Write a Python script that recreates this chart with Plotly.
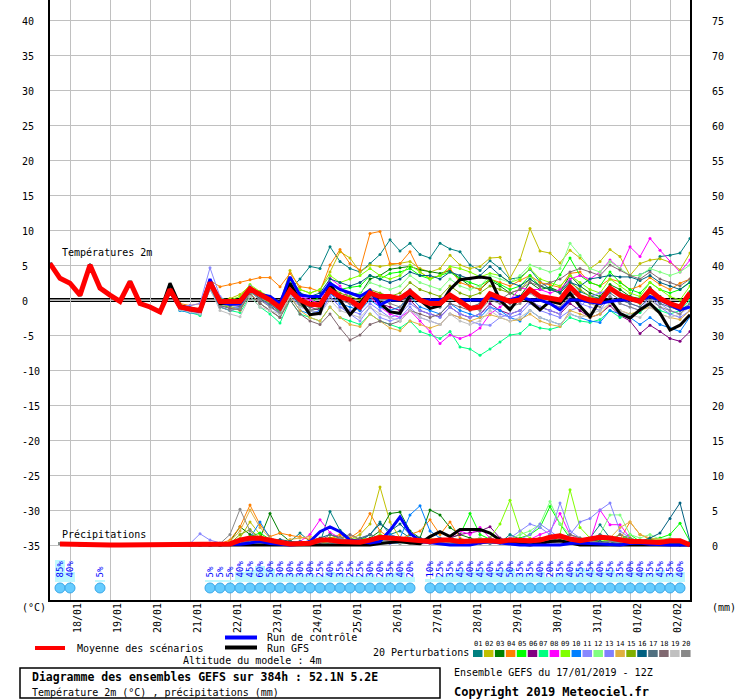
import pandas as pd
import plotly.graph_objects as go

# GEFS ensemble diagram, run 17/01/2019 12Z, 52.1N 5.2E
run_start = pd.Timestamp('2019-01-17 12:00')
temp_times = pd.date_range(run_start, periods=65, freq='6h')
precip_times = temp_times[1:]

day_ticks = pd.date_range('2019-01-18', periods=16, freq='D')
day_labels = ['18/01', '19/01', '20/01', '21/01', '22/01', '23/01', '24/01', '25/01',
              '26/01', '27/01', '28/01', '29/01', '30/01', '31/01', '01/02', '02/02']

temp_ticks = [40, 35, 30, 25, 20, 15, 10, 5, 0, -5, -10, -15, -20, -25, -30, -35]
temp_labels = ['40', '35', '30', '25', '20', '15', '10', '5', '0', '-5', '-10', '-15',
               '-20', '-25', '-30', '-35']
precip_ticks = [75, 70, 65, 60, 55, 50, 45, 40, 35, 30, 25, 20, 15, 10, 5, 0]

pert_colors = ['#008080', '#c0c000', '#008000', '#ff8000', '#00ff00', '#800080', '#00ff80',
               '#ff00ff', '#80ff00', '#0080ff', '#8888ff', '#80ff80', '#8080ff', '#e0b040',
               '#80b000', '#006080', '#507080', '#806870', '#c0c0c0', '#888888']

# first 3 days: all runs nearly identical
t_early = [5.2, 3.1, 2.4, 0.7, 5.0, 1.7, 0.7, -0.2, 2.6, -0.5, -1.0, -1.7]
p_early = [0.2, 0.1, 0, 0, 0, 0, 0, 0, 0, 0, 0, 0, 0]

# 2m temperature (°C) from 20/01 12Z, every 6h
t01 = [1.6, -1.1, -1.4, -1.6, 2.3, -0.3, -0.6, -0.3, 1.8, 0.5, -0.3, -1.4, 1.5, 3.0, 4.8, 4.5, 7.6, 5.5, 4.5, 4.0,
       5.2, 6.5, 8.6, 7.0, 8.1, 6.5, 6.0, 8.1, 7.3, 6.9, 5.0, 4.2, 5.6, 4.5, 3.0, 3.2, 4.4, 2.6, 1.6, 1.2,
       2.8, 1.2, 0.6, 0.2, 1.8, 1.0, 0.4, 3.6, 4.3, 6.2, 6.4, 6.7, 8.8]
t02 = [1.4, -1.0, -1.2, -1.4, 2.6, -0.2, 0.2, 0.8, 2.0, 1.0, 0.5, -0.5, 4.2, 1.5, 1.0, 1.5, 4.0, 6.9, 6.0, 4.0,
       5.0, 4.8, 5.0, 5.2, 5.5, 4.5, 4.0, 4.5, 6.4, 5.0, 4.5, 4.8, 6.0, 6.1, 3.1, 5.7, 10.2, 7.0, 6.7, 5.3,
       7.1, 6.0, 4.5, 5.5, 7.2, 6.2, 3.5, 5.2, 5.7, 5.9, 5.4, 4.3, 6.7]
t03 = [1.5, -1.0, -1.3, -1.5, 2.4, -0.4, -0.5, -0.6, 1.4, 0.2, -0.8, -2.0, 1.2, -0.8, -1.5, -1.2, 1.6, 0.5, 1.0, 0.8,
       3.0, 3.5, 4.4, 4.6, 4.8, 4.3, 4.0, 3.8, 4.2, 3.1, 2.0, 1.5, 2.8, 2.0, 1.0, 0.5, 2.5, 1.5, 1.8, 1.2,
       3.5, 2.0, 1.0, 0.5, 2.2, 1.5, 0.5, 0.2, 1.8, 0.5, -0.5, -1.0, 1.2]
t04 = [1.5, -0.5, -0.8, -0.5, 2.8, 1.9, 2.2, 2.5, 2.9, 3.2, 3.2, 1.9, 3.8, 1.9, 1.7, 1.2, 5.0, 7.2, 5.2, 4.3,
       9.5, 9.8, 5.2, 5.2, 6.9, 4.0, 3.1, 3.5, 4.5, 2.5, 2.0, 1.5, 3.0, 2.5, 2.0, 2.8, 3.5, 2.5, 2.2, 1.8,
       3.8, 4.0, 2.5, 2.0, 3.0, 2.6, 1.5, 2.0, 3.2, 2.2, 1.5, 2.4, 3.0]
t05 = [1.6, -1.0, -1.5, -2.0, 2.2, -0.8, -1.0, -1.2, 1.0, 0.5, -0.5, -1.8, 1.5, 0.0, -0.5, 0.5, 2.5, 1.5, 1.8, 2.0,
       3.5, 3.0, 3.8, 4.0, 4.5, 3.5, 3.0, 3.5, 4.0, 3.0, 2.5, 2.0, 3.0, 2.2, 1.5, 2.0, 3.5, 2.0, 1.5, 3.6,
       6.0, 3.5, 2.5, 2.0, 4.0, 2.5, 1.5, 1.0, 2.5, 1.5, 1.0, 1.5, 2.6]
t06 = [1.4, -1.2, -1.6, -1.8, 2.0, -0.6, -0.5, -0.8, 1.5, 0.8, 0.0, -1.0, 1.2, -0.5, -1.0, -1.5, 1.0, 0.0, -0.5, -1.5,
       0.5, -0.5, -1.0, -1.5, 0.0, -1.5, -2.0, -2.4, -1.0, -2.0, -2.5, -2.0, -0.5, -1.5, -2.0, -1.5, 0.0, -1.0, -1.5, -2.0,
       -0.5, -1.5, -2.5, -2.0, -0.8, -2.2, -3.0, -4.8, -3.6, -4.5, -5.5, -5.9, -4.5]
t07 = [1.3, -1.5, -1.8, -2.2, 1.8, -1.0, -1.5, -1.8, 0.5, -1.0, -2.0, -3.3, 0.0, -2.0, -2.5, -3.0, -1.0, -2.5, -3.0, -3.5,
       -2.0, -3.0, -3.5, -4.0, -3.0, -4.5, -5.0, -5.5, -4.5, -6.7, -7.0, -7.9, -7.0, -6.0, -5.0, -4.8, -3.5, -4.0, -4.2, -3.8,
       -2.5, -3.0, -3.2, -2.8, -1.5, -2.5, -2.0, -1.8, -0.5, -1.5, -2.0, -1.5, 0.0]
t08 = [1.5, -1.2, -1.5, -1.7, 2.4, -0.4, -0.6, -0.8, 1.4, 0.5, 0.0, -1.0, 1.6, 0.5, 0.0, -0.5, 3.1, 2.0, 0.0, -1.0,
       0.5, -1.0, -2.0, -2.5, -1.5, -3.0, -4.5, -6.2, -5.0, -5.5, -5.0, -4.0, -2.0, -1.0, 0.0, 1.7, 1.5, 1.5, 1.0, 1.5,
       3.0, 3.5, 3.0, 4.0, 5.7, 4.5, 7.6, 6.2, 8.8, 7.1, 5.5, 4.0, 5.7]
t09 = [1.6, -0.8, -1.2, -1.3, 2.6, 0.2, 0.0, 0.5, 2.2, 1.2, 0.5, -0.5, 2.5, 1.5, 1.0, 1.5, 3.5, 2.5, 3.0, 3.5,
       4.5, 3.5, 3.0, 3.5, 5.0, 4.0, 3.0, 3.5, 4.8, 4.5, 4.0, 3.3, 3.8, 3.5, 2.5, 3.0, 4.5, 3.0, 2.5, 2.0,
       3.5, 2.5, 1.5, 1.0, 3.0, 2.0, 1.0, 0.5, 2.5, 1.5, 0.5, 0.0, 2.0]
t10 = [1.0, -1.5, -1.8, -2.0, 1.5, -1.0, -1.5, -1.2, 1.0, -0.5, -1.5, -2.5, 0.5, -1.5, -2.0, -1.5, 1.0, -0.5, -1.0, -1.5,
       0.0, -1.0, -1.5, -1.0, 0.5, -1.0, -1.5, -2.0, -0.5, -1.5, -2.0, -2.5, -1.0, -1.5, -2.5, -3.0, -1.5, -2.5, -3.0, -3.5,
       -2.0, -2.5, -3.0, -3.2, -1.5, -2.0, -2.5, -3.5, -2.5, -3.5, -4.0, -4.5, -2.4]
t11 = [1.8, -0.8, -0.8, -0.5, 4.6, 0.5, -0.5, -1.0, 2.0, 0.5, -1.0, -2.0, 1.8, -0.5, -1.5, -2.0, 0.5, -1.0, -2.0, -3.0,
       -1.0, -2.5, -3.0, -2.5, -1.0, -2.5, -3.0, -3.5, -2.0, -2.5, -3.0, -3.5, -3.6, -2.5, -2.0, -1.5, 0.0, -1.0, -1.5, -2.0,
       0.5, -0.5, -1.0, -1.5, 0.5, -0.5, -1.0, -1.5, 0.5, -0.5, -1.5, -2.0, -0.5]
t12 = [1.5, -1.0, -1.3, -1.5, 2.4, -0.3, -0.5, -0.6, 1.5, 0.5, -0.5, -1.5, 1.4, -0.5, -1.0, -0.5, 1.5, 0.5, 0.5, 1.0,
       2.5, 2.0, 1.5, 2.0, 3.5, 2.5, 2.0, 1.5, 3.0, 2.0, 1.5, 2.0, 3.5, 3.0, 2.5, 3.5, 5.0, 4.5, 4.0, 4.5,
       8.1, 6.4, 4.5, 4.0, 5.5, 4.5, 3.5, 3.5, 4.5, 4.0, 3.5, 4.0, 5.0]
t13 = [1.4, -1.3, -1.6, -1.9, 2.0, -0.8, -1.2, -1.0, 1.2, 0.0, -0.8, -1.5, 1.0, -1.0, -1.5, -1.8, 0.5, -1.0, -1.5, -2.0,
       -0.5, -1.5, -2.5, -2.0, -0.5, -1.5, -2.0, -2.5, -1.0, -2.0, -2.5, -2.0, -1.0, -2.0, -2.5, -2.0, -0.5, -1.5, -2.0, -2.5,
       -1.5, -1.0, 0.5, 1.0, 1.5, 0.5, -0.5, -1.0, 0.5, -1.0, -2.0, -2.5, -1.5]
t14 = [1.5, -1.0, -1.2, -1.4, 2.5, -0.5, -1.0, -1.5, 1.0, -0.5, -1.5, -2.5, 0.5, -1.5, -2.5, -3.0, -1.0, -2.5, -3.5, -3.8,
       -2.0, -3.0, -4.0, -4.4, -3.0, -3.5, -4.0, -3.5, -2.0, -2.5, -3.0, -2.5, -2.1, -2.5, -3.0, -2.8, -2.0, -3.0, -3.5, -3.8,
       -1.5, -2.0, -2.5, -2.0, -0.5, -1.5, -2.0, -1.5, -1.0, -2.0, -2.5, -2.8, -1.5]
t15 = [1.5, -0.9, -1.2, -1.4, 2.5, -0.2, -0.3, -0.2, 1.8, 0.8, 0.0, -1.0, 1.5, 0.0, -0.5, -0.5, 2.0, 1.0, 0.5, 0.0,
       1.5, 1.0, 0.5, 1.0, 2.5, 1.5, 1.0, 0.5, 2.0, 1.0, 0.5, 1.0, 2.0, 1.5, 1.0, 1.5, 3.0, 2.0, 1.5, 1.0,
       2.5, 1.5, 0.5, 0.0, 1.5, 0.5, 0.0, -0.5, 1.0, 0.0, -0.5, -1.0, 0.5]
t16 = [1.6, -0.9, -1.1, -1.3, 2.6, 0.0, -0.2, 0.0, 1.8, 1.0, 0.5, -0.5, 2.0, 1.0, 0.5, 1.0, 3.0, 2.5, 2.0, 2.5,
       3.5, 3.0, 2.5, 3.0, 4.0, 3.5, 3.5, 3.0, 4.0, 3.5, 3.0, 3.5, 4.8, 3.5, 2.5, 2.0, 3.0, 2.0, 1.5, 1.0,
       2.5, 2.0, 3.0, 3.2, 3.5, 3.3, 3.3, 2.8, 3.5, 2.5, 2.0, 1.5, 2.5]
t17 = [1.5, -1.1, -1.4, -1.6, 2.3, -0.6, -0.8, -0.9, 1.3, 0.2, -0.6, -1.6, 1.1, -0.6, -1.0, -0.5, 2.0, 0.5, 0.0, -0.5,
       1.0, 0.5, 0.0, 0.5, 1.5, 0.0, -0.5, -1.0, 0.5, -0.5, -1.0, -0.5, 0.5, 0.0, -0.5, 0.0, 1.5, 0.5, 0.0, -0.5,
       1.0, 0.5, 0.0, -0.5, 1.0, 0.0, -0.5, -1.0, 0.5, -0.5, -1.0, -1.5, -0.5]
t18 = [1.4, -1.2, -1.5, -1.8, 2.0, -0.8, -1.2, -1.4, 0.8, -0.5, -1.5, -2.5, 0.0, -2.0, -3.0, -3.5, -2.0, -4.0, -5.7, -5.0,
       -3.5, -3.0, -3.5, -3.0, -1.5, -2.0, -2.5, -2.0, -0.5, -1.0, -1.5, -1.0, 0.5, 0.0, 1.0, 1.5, 2.5, 2.0, 2.5, 3.0,
       4.0, 4.5, 4.0, 3.5, 5.0, 4.3, 3.5, 3.0, 4.0, 3.0, 2.5, 2.0, 3.0]
t19 = [1.3, -1.4, -1.7, -2.0, 1.6, -1.5, -2.0, -2.4, 0.5, -1.0, -1.5, -2.0, 0.5, -1.0, -1.5, -2.0, 0.0, -1.5, -2.0, -2.5,
       -1.0, -2.0, -2.5, -3.0, -1.5, -2.5, -3.0, -3.5, -2.0, -3.0, -3.5, -3.0, -1.5, -2.5, -3.0, -2.5, -1.5, -2.5, -3.0, -3.5,
       -2.0, -2.5, -2.0, -1.5, -0.5, -1.5, -2.1, -2.5, -1.0, -2.0, -2.5, -2.0, -1.0]
t20 = [1.5, -1.1, -1.4, -1.6, 2.2, -1.0, -1.5, -1.2, 1.3, 0.0, -1.0, -1.8, 1.2, -0.5, -1.5, -1.0, 1.5, 0.0, -0.5, -1.0,
       0.5, 0.0, -0.5, -1.0, 1.0, 0.0, -0.5, -1.0, 0.5, -0.5, -1.0, -1.5, 0.0, -0.5, -1.0, -0.5, 1.0, 0.0, -0.5, -1.0,
       0.5, 0.0, -0.5, -1.0, 0.5, -0.5, -1.0, -1.5, 0.0, -1.0, -1.5, -2.0, -0.5]
t_ctrl = [1.2, -1.1, -1.4, -1.6, 3.0, -0.3, -0.6, -0.5, 1.4, 0.8, 0.5, -0.5, 3.3, 0.7, 0.5, 0.5, 2.4, 1.5, 1.0, 0.5,
          1.4, -0.7, 0.0, 0.0, 1.0, 0.0, 0.0, 0.0, 0.5, 0.0, 0.0, 0.0, 0.3, 0.0, 0.0, 0.5, 0.0, 0.0, -0.5, -1.4,
          0.0, 0.0, -0.3, -0.5, -0.2, 0.0, 0.0, 0.0, 0.5, 0.0, -0.7, -1.4, -1.0]
t_gfs = [2.4, -0.8, -1.2, -1.5, 2.6, -0.5, -0.5, -0.5, 1.6, 0.8, 0.2, -0.3, 2.4, 0.0, -2.1, -1.9, 2.4, 0.0, -2.1, -0.5,
         1.2, -0.5, -1.7, -1.9, 0.7, 0.0, -1.2, -0.8, 1.5, 2.9, 3.1, 3.3, 3.1, 0.0, -1.4, 0.5, -0.2, -1.4, -0.2, -0.5,
         1.0, -0.9, -2.4, 0.0, 0.0, -1.9, -2.6, -1.4, -0.5, -1.9, -4.3, -3.6, -2.1]
t_mean = [1.5, -1.0, -1.3, -1.5, 2.5, -0.2, -0.2, -0.2, 1.6, 0.8, 0.0, -1.1, 1.4, 0.0, -0.6, -0.7, 1.4, 0.5, 0.0, -1.0,
          1.0, 0.5, 0.5, 0.2, 1.2, 0.0, -0.5, -0.5, 0.7, -0.2, -1.2, -1.0, 0.9, 0.3, -0.2, 0.0, 1.5, 0.5, 0.2, 0.0,
          1.9, 0.5, 0.0, -0.2, 1.7, 0.7, 0.2, -0.2, 1.4, 0.2, -0.5, -1.0, 1.0]

# 6h precipitation (mm) from 21/01 00Z
p01 = [0, 0, 0, 0, 0.2, 0.5, 0.8, 0.5, 0.3, 0.2, 0.5, 1.7, 0.5, 0.3, 4.8, 2.1, 1.0, 0.5, 1.5, 3.3, 1.5,
       2.0, 1.0, 0.5, 0.8, 0.5, 0.3, 0.2, 0.5, 1.0, 0.5, 0.3, 1.5, 0.8, 0.5, 0.3, 1.5, 1.0, 0.5, 0.5, 1.0,
       2.9, 1.0, 0.5, 0.3, 0.2, 0.5, 0.3, 0.2, 0.0, 0.0]
p02 = [0, 0, 0, 0, 0.3, 1.0, 3.3, 1.5, 0.5, 0.3, 0.2, 0.3, 0.5, 0.8, 1.0, 1.2, 0.8, 1.5, 3.0, 8.3, 3.3,
       1.0, 0.5, 0.3, 0.5, 0.8, 0.5, 0.3, 0.5, 0.8, 0.5, 0.3, 1.0, 0.5, 0.3, 0.5, 1.0, 0.8, 0.5, 0.3, 0.5,
       0.5, 0.3, 0.2, 0.5, 0.3, 0.2, 0.3, 0.2, 0.1, 0.0]
p03 = [0, 0, 0, 0, 0.5, 2.6, 1.5, 1.0, 4.5, 1.7, 0.5, 0.3, 0.2, 0.5, 0.8, 0.5, 0.3, 0.5, 1.0, 2.0, 4.5,
       4.7, 2.0, 1.0, 5.0, 4.3, 2.5, 1.5, 1.0, 0.5, 0.3, 0.5, 0.3, 0.2, 0.5, 0.3, 0.8, 0.5, 0.3, 0.2, 0.5,
       0.3, 0.2, 0.5, 0.3, 0.2, 0.1, 0.3, 0.2, 0.1, 0.0]
p04 = [0, 0, 0, 0.2, 0.7, 2.6, 5.7, 2.9, 1.2, 1.7, 1.4, 1.2, 0.8, 0.5, 1.0, 1.5, 1.0, 2.0, 4.5, 2.0, 1.0,
       0.8, 1.5, 2.0, 3.6, 1.5, 3.3, 1.0, 0.5, 0.8, 1.0, 0.5, 0.3, 0.5, 0.8, 1.0, 0.5, 0.3, 0.5, 0.8, 0.5,
       0.3, 0.5, 0.8, 3.3, 1.5, 0.8, 0.5, 0.3, 0.2, 0.0]
p05 = [0, 0, 0, 0, 0.3, 0.8, 1.2, 1.7, 0.8, 0.5, 0.3, 0.2, 0.3, 0.8, 1.0, 0.5, 0.3, 0.2, 0.5, 0.8, 1.0,
       0.5, 0.3, 0.5, 0.8, 0.5, 1.0, 1.5, 4.5, 1.5, 0.8, 0.5, 0.8, 1.0, 1.5, 2.5, 5.5, 3.0, 1.0, 0.5, 0.8,
       1.0, 0.5, 0.8, 1.5, 0.5, 0.8, 1.0, 1.5, 3.1, 0.5]
p06 = [0, 0, 0, 0, 0.1, 0.3, 0.5, 0.3, 0.2, 0.1, 0.1, 0.2, 0.3, 0.5, 0.3, 0.2, 0.5, 0.3, 0.5, 0.8, 0.5,
       0.3, 0.5, 0.3, 0.5, 0.8, 1.0, 1.5, 1.8, 2.0, 2.6, 1.0, 0.5, 0.3, 0.2, 0.3, 0.5, 0.3, 0.2, 0.5, 0.3,
       0.2, 0.3, 0.5, 0.3, 0.2, 0.1, 0.2, 0.3, 0.2, 0.0]
p07 = [0, 0, 0, 0, 0.2, 0.5, 0.8, 0.5, 0.3, 0.2, 0.1, 0.2, 0.5, 0.3, 0.2, 0.5, 0.3, 0.2, 0.3, 0.5, 0.3,
       0.2, 0.3, 0.2, 0.5, 0.3, 0.2, 0.5, 0.3, 0.2, 0.3, 0.5, 0.3, 0.2, 0.5, 0.8, 0.5, 0.3, 0.2, 0.3, 0.5,
       0.3, 0.5, 0.8, 0.5, 0.3, 0.2, 0.5, 0.8, 0.3, 0.0]
p08 = [0, 0, 0, 0, 0.1, 0.3, 0.5, 0.3, 0.2, 0.5, 0.3, 0.5, 1.5, 3.6, 1.8, 1.0, 0.5, 0.3, 0.5, 0.8, 0.5,
       0.3, 0.5, 0.8, 0.5, 0.3, 1.0, 2.0, 1.5, 2.5, 1.0, 0.5, 0.3, 0.5, 0.8, 1.5, 2.0, 4.5, 1.5, 0.8, 0.5,
       5.0, 2.9, 2.9, 1.0, 0.5, 0.3, 0.5, 0.8, 0.5, 0.0]
p09 = [0, 0, 0, 0, 0.1, 0.2, 0.5, 0.8, 0.5, 0.3, 0.2, 0.3, 0.2, 0.5, 0.3, 0.5, 0.8, 1.0, 0.8, 1.5, 1.0,
       0.5, 0.3, 0.5, 0.8, 1.0, 0.5, 0.3, 0.5, 0.8, 1.0, 3.0, 6.4, 2.0, 1.0, 0.5, 1.0, 1.5, 7.9, 2.5, 1.0,
       0.5, 0.8, 1.5, 0.8, 0.5, 1.0, 0.8, 0.5, 0.3, 0.0]
p10 = [0, 0, 0, 0, 0.2, 0.5, 1.0, 3.3, 1.0, 0.5, 0.3, 0.5, 0.3, 0.5, 0.8, 0.5, 0.3, 0.5, 0.8, 1.0, 1.5,
       1.0, 4.3, 5.6, 2.0, 1.0, 0.5, 0.3, 0.5, 0.3, 0.2, 0.3, 0.5, 0.3, 0.2, 0.5, 0.3, 0.5, 0.8, 0.3, 0.2,
       0.3, 0.5, 0.3, 0.2, 0.1, 0.3, 0.2, 0.1, 0.2, 0.0]
p11 = [0.2, 1.6, 0.7, 0.3, 0.2, 0.3, 0.5, 0.3, 0.2, 0.1, 0.2, 0.3, 0.2, 0.5, 0.3, 0.2, 0.3, 0.5, 0.8, 0.5, 0.3,
       0.5, 0.3, 0.8, 1.0, 0.5, 0.3, 0.5, 0.8, 0.5, 0.3, 0.5, 1.0, 2.0, 3.0, 2.5, 1.5, 6.0, 2.0, 1.0, 0.5,
       0.3, 0.5, 0.3, 0.2, 0.5, 0.3, 0.5, 0.8, 0.5, 0.0]
p12 = [0, 0, 0, 0, 0.2, 0.5, 0.8, 0.5, 0.3, 0.2, 0.1, 0.2, 0.3, 0.2, 0.5, 0.3, 0.5, 0.3, 0.2, 0.5, 0.8,
       0.5, 0.3, 0.5, 0.8, 0.5, 0.3, 0.5, 0.8, 1.0, 0.5, 0.3, 0.8, 1.5, 2.0, 3.0, 6.2, 3.0, 1.5, 1.0, 0.8,
       1.5, 4.3, 4.3, 1.5, 1.0, 1.5, 0.8, 1.0, 0.5, 0.0]
p13 = [0, 0, 0, 0, 0.1, 0.3, 0.5, 0.3, 0.2, 0.3, 0.2, 0.1, 0.3, 0.5, 0.8, 0.5, 0.3, 0.2, 0.5, 0.3, 0.2,
       0.3, 0.5, 0.3, 0.2, 0.5, 0.8, 0.5, 0.3, 0.5, 0.8, 0.5, 0.3, 0.8, 1.5, 3.0, 2.0, 1.0, 1.5, 3.3, 3.8,
       5.0, 6.0, 2.0, 1.0, 0.5, 0.3, 0.5, 0.3, 0.2, 0.0]
p14 = [0, 0, 0, 0, 0.5, 2.0, 5.0, 2.5, 1.0, 0.5, 0.8, 1.0, 1.2, 0.8, 0.5, 0.3, 0.5, 0.3, 0.5, 0.8, 0.5,
       0.3, 0.5, 0.8, 1.0, 0.5, 0.3, 0.5, 0.3, 0.2, 0.5, 0.8, 0.5, 0.3, 0.2, 0.5, 0.3, 0.2, 0.5, 0.3, 0.5,
       0.8, 1.0, 2.5, 3.3, 1.5, 1.0, 0.8, 0.5, 0.3, 0.0]
p15 = [0, 0, 0, 0, 0.2, 1.5, 2.2, 1.0, 0.5, 0.3, 0.2, 0.3, 0.5, 0.3, 0.5, 0.8, 0.5, 0.3, 0.5, 0.8, 1.0,
       0.5, 0.3, 0.5, 0.8, 0.5, 0.3, 0.2, 0.5, 0.3, 0.5, 0.8, 0.5, 0.3, 0.5, 0.8, 1.0, 0.5, 0.3, 0.5, 0.8,
       0.5, 0.3, 0.8, 1.0, 0.5, 0.3, 0.5, 0.3, 0.2, 0.0]
p16 = [0, 0, 0, 0, 0.1, 0.3, 0.5, 0.3, 0.5, 0.8, 0.5, 0.3, 0.5, 1.0, 1.5, 1.0, 0.5, 0.8, 1.5, 3.0, 2.0,
       3.0, 1.5, 1.0, 0.5, 0.3, 0.5, 0.8, 0.5, 0.3, 0.5, 0.3, 0.5, 0.8, 0.5, 0.3, 0.5, 0.3, 0.2, 0.5, 0.8,
       0.5, 0.3, 0.5, 0.8, 0.5, 1.0, 1.7, 3.8, 6.0, 0.5]
p17 = [0, 0, 0, 0, 0.1, 0.5, 0.8, 0.5, 0.3, 0.2, 0.3, 0.5, 0.3, 0.5, 1.5, 1.0, 0.5, 1.0, 1.5, 1.0, 0.5,
       0.3, 0.5, 0.8, 0.5, 0.3, 0.2, 0.5, 0.8, 0.5, 0.3, 0.5, 0.3, 0.2, 0.5, 0.8, 1.0, 0.5, 0.3, 0.5, 0.8,
       1.5, 1.0, 0.5, 0.3, 0.5, 0.3, 0.2, 0.3, 0.2, 0.0]
p18 = [0, 0, 0, 0, 0.1, 0.3, 0.5, 0.3, 0.2, 0.1, 0.2, 0.3, 0.5, 0.8, 0.5, 1.0, 1.5, 0.8, 0.5, 0.3, 0.5,
       0.8, 0.5, 0.3, 0.2, 0.5, 0.3, 0.2, 0.5, 0.8, 1.0, 0.5, 0.3, 0.5, 0.8, 1.0, 0.5, 0.3, 1.5, 1.0, 0.5,
       0.3, 0.5, 1.5, 0.8, 0.5, 0.3, 0.2, 0.3, 0.2, 0.0]
p19 = [0, 0, 0, 0, 0.1, 0.2, 0.3, 0.2, 0.1, 0.1, 0.1, 0.2, 0.3, 0.2, 0.1, 0.3, 0.5, 0.3, 0.2, 0.3, 0.5,
       0.3, 0.2, 0.1, 0.3, 0.2, 0.5, 0.3, 0.2, 0.3, 0.5, 0.3, 0.2, 0.5, 0.3, 0.2, 0.1, 0.3, 0.5, 0.3, 0.2,
       0.1, 0.2, 0.3, 0.2, 0.1, 0.2, 0.3, 0.2, 0.1, 0.0]
p20 = [0, 0, 0, 0.2, 1.5, 5.1, 2.0, 0.8, 0.5, 0.3, 0.2, 0.3, 0.5, 0.3, 0.8, 1.0, 0.5, 0.3, 0.5, 0.8, 0.5,
       1.0, 0.5, 0.3, 0.5, 0.3, 0.2, 0.5, 0.3, 0.2, 0.3, 0.5, 0.3, 0.2, 0.3, 0.5, 0.8, 0.5, 0.3, 0.2, 0.5,
       0.3, 0.5, 0.3, 0.2, 0.1, 0.3, 0.2, 0.1, 0.2, 0.0]
p_ctrl = [0, 0, 0, 0, 0, 0.1, 0.3, 0.5, 0.2, 0.1, 0.0, 0.1, 0.5, 1.9, 2.6, 1.9, 0.7, 0.5, 0.3, 0.5, 2.1,
          4.0, 1.7, 0.5, 0.3, 0.1, 0, 0, 0, 0.3, 0.5, 0.3, 0.1, 0, 0, 0, 0, 0, 0.2, 0.3, 0.2,
          0.1, 0, 0, 0.2, 0.3, 0.1, 0, 0, 0, 0]
p_gfs = [0, 0, 0, 0, 0, 0, 0.1, 0.1, 0, 0, 0, 0, 0, 0, 0, 0, 0, 0, 0, 0.2, 0.3,
         0.5, 0.3, 0.2, 1.2, 1.9, 1.2, 2.2, 2.2, 2.2, 1.7, 0.7, 0.3, 0.1, 0, 0.2, 0.5, 0.6, 0.3, 0, 0,
         0, 0, 0, 0, 0, 0, 0, 0, 0, 0]
p_mean = [0.15, 0.1, 0, 0, 0, 0, 0, 0, 0, 0, 0, 0, 0, 0.05, 0.05, 0.05, 0.1, 0.15, 0.7, 1.0,
          0.95, 0.6, 0.4, 0.15, 0.25, 0.25, 0.7, 0.7, 0.5, 0.4, 0.4, 0.7, 1.1, 1.0, 0.85, 0.7, 0.7, 0.5, 0.7, 0.7,
          0.5, 0.6, 0.6, 0.6, 0.5, 0.7, 0.6, 0.6, 0.7, 1.1, 1.3, 0.85, 0.6, 0.8, 1.1, 1.0, 0.7, 0.5, 0.5, 0.4,
          0.35, 0.6, 0.6, 0.0]

# probability of snow (%) per 6h step
snow_pct = [85, 40, 0, 0, 5, 0, 0, 0, 0, 0,
            0, 0, 0, 0, 0, 5, 5, 5, 40, 45,
            60, 50, 30, 30, 30, 30, 25, 40, 35, 25,
            25, 30, 20, 35, 40, 20, 0, 10, 25, 35,
            45, 40, 45, 40, 45, 50, 35, 35, 40, 20,
            35, 40, 55, 45, 40, 45, 35, 40, 40, 35,
            45, 35, 40, 0]

members_t = [t01, t02, t03, t04, t05, t06, t07, t08, t09, t10,
             t11, t12, t13, t14, t15, t16, t17, t18, t19, t20]
members_p = [p01, p02, p03, p04, p05, p06, p07, p08, p09, p10,
             p11, p12, p13, p14, p15, p16, p17, p18, p19, p20]

MONO = 'DejaVu Sans Mono'


def xp(px):
    return (px - 50) / 640


def yp(py):
    return (600 - py) / 600


fig = go.Figure()

for color, t, p in zip(pert_colors, members_t, members_p):
    fig.add_trace(go.Scatter(x=temp_times, y=t_early + t, mode='lines+markers',
                             line=dict(color=color, width=1), marker=dict(size=3, color=color),
                             hoverinfo='skip'))
    fig.add_trace(go.Scatter(x=precip_times, y=p_early + p, yaxis='y2', mode='lines+markers',
                             line=dict(color=color, width=1), marker=dict(size=3, color=color),
                             hoverinfo='skip'))

for y_t, y_p, color, w in [(t_gfs, p_gfs, '#000000', 3), (t_ctrl, p_ctrl, '#0000ff', 3)]:
    fig.add_trace(go.Scatter(x=temp_times, y=t_early + y_t, mode='lines',
                             line=dict(color=color, width=w), hoverinfo='skip'))
    fig.add_trace(go.Scatter(x=precip_times, y=p_early + y_p, yaxis='y2', mode='lines',
                             line=dict(color=color, width=w), hoverinfo='skip'))

fig.add_trace(go.Scatter(x=temp_times, y=t_early + t_mean, mode='lines',
                         line=dict(color='#ff0000', width=5), hoverinfo='skip'))
fig.add_trace(go.Scatter(x=precip_times, y=p_mean, yaxis='y2', mode='lines',
                         line=dict(color='#ff0000', width=5), hoverinfo='skip'))

# snow probability strip (own overlaid axis: 0 % at 582px, 100 % at 556px)
snow_x = [precip_times[k] for k, v in enumerate(snow_pct) if v > 0]
snow_v = [v for v in snow_pct if v > 0]
fig.add_trace(go.Bar(x=snow_x, y=snow_v, yaxis='y3', width=6 * 3600 * 1000,
                     marker=dict(color='#bff8ff', line=dict(width=0)), hoverinfo='skip'))
fig.add_trace(go.Scatter(x=snow_x, y=[-23] * len(snow_x), yaxis='y3', mode='markers',
                         marker=dict(symbol='circle', size=10, color='#66ccff',
                                     line=dict(color='#3aa8e8', width=1)), hoverinfo='skip'))

ann = []
for d, lab in zip(day_ticks, day_labels):
    ann.append(dict(x=d, xref='x', y=0, yref='paper', text=lab, showarrow=False,
                    textangle=-90, xanchor='center', yanchor='top', xshift=7, yshift=-1,
                    font=dict(family=MONO, size=10, color='black')))
for v, lab in zip(temp_ticks, temp_labels):
    ann.append(dict(x=xp(20), xref='paper', y=v, yref='y', text=lab, showarrow=False,
                    xanchor='left', yanchor='middle', yshift=-1,
                    font=dict(family=MONO, size=10, color='black')))
for v in precip_ticks:
    ann.append(dict(x=xp(710), xref='paper', y=v, yref='y2', text=str(v), showarrow=False,
                    xanchor='left', yanchor='middle', yshift=-1,
                    font=dict(family=MONO, size=10, color='black')))
for x, v in zip(snow_x, snow_v):
    ann.append(dict(x=x, xref='x', y=8, yref='y3', text=f'{v}%', showarrow=False,
                    textangle=-90, xanchor='center', yanchor='bottom',
                    font=dict(family=MONO, size=9, color='#0000ff')))


def label(x, y, text, size=10, anchor='left'):
    ann.append(dict(x=xp(x), xref='paper', y=yp(y), yref='paper', text=text,
                    showarrow=False, xanchor=anchor, yanchor='middle',
                    font=dict(family=MONO, size=size, color='black')))


label(60, 252, 'Températures 2m')
label(60, 534, 'Précipitations')
label(20, 607, '(°C)')
label(710, 607, '(mm)')
label(75, 648, 'Moyenne des scénarios')
label(265, 637, 'Run de contrôle')
label(265, 648, 'Run GFS')
label(181, 660, 'Altitude du modele : 4m')
label(371, 652, '20 Perturbations')
label(30, 677, '<b>Diagramme des ensembles GEFS sur 384h : 52.1N 5.2E</b>', size=11.5)
label(30, 692, 'Température 2m (°C) , précipitations (mm)')
label(452, 672, 'Ensemble GEFS du 17/01/2019 - 12Z')
label(452, 692, '<b>Copyright 2019 Meteociel.fr</b>', size=12)

shapes = [
    dict(type='line', xref='x', yref='y', x0=temp_times[0], x1=temp_times[-1], y0=0, y1=0,
         layer='below', line=dict(color='black', width=4)),
    dict(type='line', xref='x', yref='y', x0=temp_times[0], x1=temp_times[-1], y0=0, y1=0,
         layer='below', line=dict(color='white', width=1)),
    dict(type='rect', xref='paper', yref='paper', x0=xp(35), x1=xp(65), y0=yp(650), y1=yp(646),
         fillcolor='#ff0000', line=dict(width=0)),
    dict(type='rect', xref='paper', yref='paper', x0=xp(225), x1=xp(257), y0=yp(639.5), y1=yp(635.5),
         fillcolor='#0000ff', line=dict(width=0)),
    dict(type='rect', xref='paper', yref='paper', x0=xp(225), x1=xp(257), y0=yp(649.5), y1=yp(645.5),
         fillcolor='#000000', line=dict(width=0)),
    dict(type='rect', xref='paper', yref='paper', x0=xp(20), x1=xp(440), y0=yp(698), y1=yp(668),
         line=dict(color='black', width=1.5)),
]
for i, c in enumerate(pert_colors):
    x0 = 473 + i * 10.95
    shapes.append(dict(type='rect', xref='paper', yref='paper', x0=xp(x0), x1=xp(x0 + 9.5),
                       y0=yp(657), y1=yp(650), fillcolor=c, line=dict(width=0)))
    ann.append(dict(x=xp(x0 + 4.75), xref='paper', y=yp(644), yref='paper', text=f'{i + 1:02d}',
                    showarrow=False, xanchor='center', yanchor='middle',
                    font=dict(family=MONO, size=7, color='black')))

half = 300 / 7
fig.update_layout(
    width=740, height=700,
    margin=dict(l=50, r=50, t=0, b=100),
    paper_bgcolor='white', plot_bgcolor='white',
    showlegend=False, bargap=0,
    font=dict(family=MONO, size=10, color='black'),
    xaxis=dict(type='date', range=[temp_times[0], temp_times[-1]], tickvals=list(day_ticks),
               showticklabels=False, ticks='', showgrid=True, gridcolor='#c0c0c0', gridwidth=1,
               showline=True, linecolor='black', linewidth=2, zeroline=False, automargin=False),
    yaxis=dict(range=[-half, half], tickvals=temp_ticks, showticklabels=False, ticks='',
               showgrid=True, gridcolor='#c0c0c0', gridwidth=1, zeroline=False,
               showline=True, linecolor='black', linewidth=2, automargin=False),
    yaxis2=dict(range=[35 - half, 35 + half], overlaying='y', side='right', showgrid=False,
                showticklabels=False, ticks='', zeroline=False, showline=True,
                linecolor='black', linewidth=2, automargin=False),
    yaxis3=dict(range=[-69.23, 2238.46], overlaying='y', visible=False,
                showgrid=False, zeroline=False),
    annotations=ann,
    shapes=shapes,
)

# the page body has a default 8px margin; drop it so the chart sits at the window corner
fig.write_html('out.html', config={'displayModeBar': False},
               post_script="document.body.style.margin='0px';")
